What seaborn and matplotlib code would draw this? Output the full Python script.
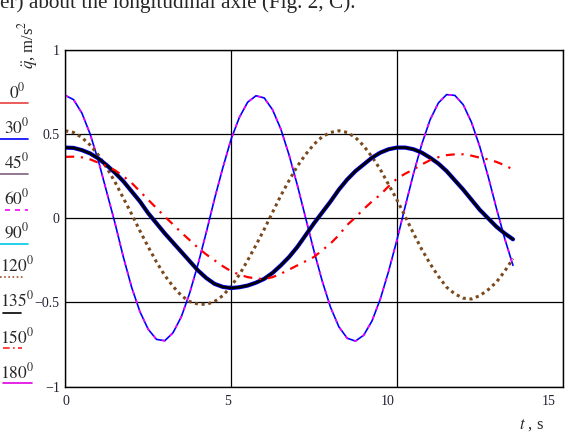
import numpy as np
import matplotlib
matplotlib.use("Agg")
import matplotlib.pyplot as plt
import matplotlib.transforms as mtransforms
import seaborn as sns
from matplotlib.lines import Line2D

sns.set_style("white")
plt.rcParams['font.family'] = ['Liberation Serif', 'DejaVu Serif']
plt.rcParams['mathtext.fontset'] = 'stix'

# time, s
t = [0, 0.25, 0.5, 0.75, 1.0, 1.25, 1.5, 1.75, 2.0, 2.25, 2.5, 2.75, 3.0, 3.25,
     3.5, 3.75, 4.0, 4.25, 4.5, 4.75, 5.0, 5.25, 5.5, 5.75, 6.0, 6.25, 6.5, 6.75,
     7.0, 7.25, 7.5, 7.75, 8.0, 8.25, 8.5, 8.75, 9.0, 9.25, 9.5, 9.75, 10.0, 10.25,
     10.5, 10.75, 11.0, 11.25, 11.5, 11.75, 12.0, 12.25, 12.5, 12.75, 13.0, 13.25, 13.5]

# fast oscillation (blue, with magenta dashes on top)
q_fast = [0.73, 0.705, 0.625, 0.50, 0.34, 0.155, -0.03, -0.23, -0.41, -0.555, -0.66, -0.72,
          -0.728, -0.68, -0.585, -0.445, -0.275, -0.085, 0.115, 0.30, 0.47, 0.60, 0.69, 0.728,
          0.715, 0.645, 0.53, 0.375, 0.195, 0.0, -0.195, -0.375, -0.53, -0.645, -0.713, -0.73,
          -0.695, -0.61, -0.48, -0.315, -0.13, 0.07, 0.265, 0.44, 0.585, 0.685, 0.735, 0.73,
          0.675, 0.57, 0.425, 0.25, 0.06, -0.12, -0.28]
# brown dotted
q_brown = [0.52, 0.51, 0.48, 0.435, 0.375, 0.30, 0.215, 0.12, 0.025, -0.075, -0.17, -0.26,
           -0.34, -0.405, -0.46, -0.495, -0.51, -0.512, -0.495, -0.46, -0.405, -0.335, -0.25, -0.16,
           -0.065, 0.035, 0.135, 0.225, 0.31, 0.38, 0.44, 0.485, 0.51, 0.52, 0.51, 0.48,
           0.43, 0.365, 0.29, 0.2, 0.11, 0.01, -0.09, -0.185, -0.27, -0.345, -0.41, -0.45,
           -0.475, -0.48, -0.46, -0.425, -0.38, -0.315, -0.24]
# thick black (over blue)
q_slow = [0.42, 0.418, 0.405, 0.385, 0.355, 0.315, 0.27, 0.22, 0.16, 0.1, 0.03, -0.03,
          -0.09, -0.145, -0.20, -0.255, -0.31, -0.355, -0.39, -0.408, -0.415, -0.41, -0.40, -0.383,
          -0.36, -0.325, -0.28, -0.23, -0.17, -0.10, -0.03, 0.035, 0.10, 0.17, 0.23, 0.28,
          0.32, 0.36, 0.39, 0.41, 0.42, 0.42, 0.41, 0.39, 0.36, 0.325, 0.28, 0.225,
          0.17, 0.11, 0.05, 0.0, -0.05, -0.09, -0.125]
# red dash-dot
q_red = [0.365, 0.366, 0.362, 0.35, 0.33, 0.31, 0.285, 0.25, 0.21, 0.16, 0.11, 0.06,
         0.01, -0.037, -0.085, -0.13, -0.175, -0.215, -0.25, -0.285, -0.315, -0.335, -0.35, -0.358,
         -0.362, -0.35, -0.33, -0.305, -0.28, -0.255, -0.23, -0.19, -0.15, -0.1, -0.04, 0.005,
         0.055, 0.1, 0.14, 0.19, 0.235, 0.265, 0.29, 0.32, 0.345, 0.363, 0.375, 0.38,
         0.38, 0.372, 0.36, 0.35, 0.335, 0.315, 0.29]

angles = ['0', '30', '45', '60', '90', '120', '135', '150', '180']

W, H = 580, 437
def fx(x):
    return x / W
def fy(y):
    return 1 - y / H

fig = plt.figure(figsize=(5.8, 4.37), dpi=100)
ax = fig.add_axes([fx(65.3), fy(386.5), fx(562.7) - fx(65.3), fy(50) - fy(386.5)])

sns.lineplot(x=t, y=q_fast, ax=ax, color='#0000ff', lw=1.2)
sns.lineplot(x=t, y=q_fast, ax=ax, color='#ff00ff', lw=1.2, linestyle=(0, (2, 4)))
sns.lineplot(x=t, y=q_brown, ax=ax, color='#7a4a1e', lw=2.2, linestyle=(0, (1, 1.2)))
sns.lineplot(x=t, y=q_slow, ax=ax, color='#0000ff', lw=3.0)
sns.lineplot(x=t, y=q_slow, ax=ax, color='black', lw=1.9)
sns.lineplot(x=t, y=q_red, ax=ax, color='#ff0000', lw=1.6, linestyle=(0, (4, 3, 1, 3)))

ax.set_xlim(0, 15)
ax.set_ylim(-1, 1)
ax.set_xticks([0, 5, 10, 15])
ax.set_xticklabels(['0', '5', '10', '15'])
ax.set_yticks([-1, -0.5, 0, 0.5, 1])
ax.set_yticklabels(['\u22121', '\u22120.5', '0', '0.5', '1'])
ax.tick_params(length=0, labelsize=10, colors='#222233')
ax.tick_params(axis='x', pad=6)
ax.tick_params(axis='y', pad=4)
# Mathcad puts the x labels a little left of their grid lines
for lab, dx in zip(ax.get_xticklabels(), [1, -4, -9, -14]):
    lab.set_transform(lab.get_transform() + mtransforms.ScaledTranslation(dx / 100, 0, fig.dpi_scale_trans))
ax.grid(True, color='black', lw=0.9)
for s in ax.spines.values():
    s.set_color('black')
    s.set_linewidth(1.0)
ax.set_xlabel('')
ax.set_ylabel('')

# axis titles
fig.text(fx(28), fy(45), r'$\ddot{q}$, m/s$^2$', rotation=90, ha='center', va='center', fontsize=12)
fig.text(fx(531), fy(425), r'$t$ , s', ha='center', va='center', fontsize=12)

# cropped caption text from the page
fig.text(fx(0), fy(8), 'er) about the longitudinal axle (Fig. 2, C).', ha='left', va='baseline', fontsize=15.3)

# legend (Mathcad style: label with line sample below)
leg_text_y = [92, 127, 162, 198, 232, 265, 300, 337, 372]
leg_line_y = [103, 139, 174, 210, 244, 277, 313, 348, 383]
leg_x0 = [0, 0, 0, 5, 0, 0, 3, 3, 3]
leg_x1 = [28, 28, 28, 28, 28, 24, 21, 22, 32]
leg_colors = ['#e84040', '#0000ff', '#806080', '#ff00ff', '#00c8e8', '#a0522d', 'black', '#ff2020', '#e000e0']
leg_styles = ['-', '-', '-', (0, (3, 3)), '-', (0, (1, 1.5)), '-', (0, (4, 2, 1, 2)), '-']
for a, ty, ly, x0, x1, c, ls in zip(angles, leg_text_y, leg_line_y, leg_x0, leg_x1, leg_colors, leg_styles):
    fig.text(fx(17), fy(ty), r'$%s^{0}$' % a, ha='center', va='center', fontsize=12.5)
    fig.add_artist(Line2D([fx(x0), fx(x1)], [fy(ly), fy(ly)], color=c, lw=1.2, linestyle=ls))

plt.savefig('out.png', dpi=100)
